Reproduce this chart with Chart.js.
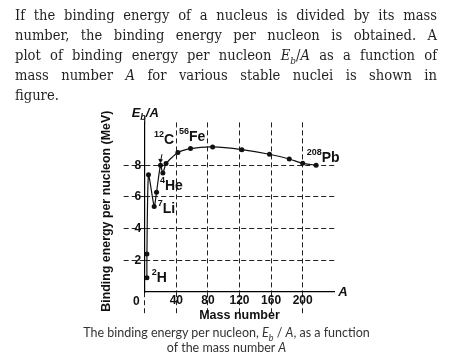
<!DOCTYPE html>
<html><head><meta charset="utf-8">
<script src="https://cdn.jsdelivr.net/npm/chart.js@4"></script>
<style>
html,body{margin:0;padding:0;background:#fff;width:453px;height:362px;overflow:hidden;}
#wrap{position:relative;width:453px;height:362px;}
canvas{position:absolute;left:0;top:0;}
.hl{position:absolute;left:15px;width:422px;font-family:"DejaVu Serif Condensed","DejaVu Serif",serif;font-stretch:semi-condensed;font-size:14.6px;color:#231f20;text-align:justify;text-align-last:justify;line-height:20px;}
.cap{position:absolute;left:0;width:453px;text-align:center;font-family:Lato,sans-serif;font-size:12.5px;color:#333;line-height:15px;}
</style></head>
<body><div id="wrap">
<canvas id="c" width="453" height="362"></canvas>
<div class="hl" style="top:5px">If the binding energy of a nucleus is divided by its mass</div>
<div class="hl" style="top:25px">number, the binding energy per nucleon is obtained. A</div>
<div class="hl" style="top:45px">plot of binding energy per nucleon <i>E</i><sub style="font-size:10px;line-height:0"><i>b</i></sub>/<i>A</i> as a function of</div>
<div class="hl" style="top:65px">mass number <i>A</i> for various stable nuclei is shown in</div>
<div class="hl" style="top:84.5px;text-align-last:left">figure.</div>
<div class="cap" style="top:325px">The binding energy per nucleon, <i>E</i><sub style="font-size:9px;line-height:0"><i>b</i></sub> / <i>A</i>, as a function</div>
<div class="cap" style="top:340px">of the mass number <i>A</i></div>
</div>
<script>
const massNumbers = [2.8, 2.8, 4.8, 12, 15, 20, 23, 27, 42, 58, 86, 123, 158, 183, 200, 217];
const bindingPerNucleon = [0.9, 2.4, 7.4, 5.4, 6.3, 8.0, 7.5, 8.1, 8.8, 9.05, 9.15, 8.98, 8.69, 8.39, 8.12, 8.0];
const xTickValues = [0, 40, 80, 120, 160, 200];
const yTickValues = [2, 4, 6, 8];
const labelSup = ['12', '56', '4', '7', '208', '2'];
const labelSym = ['C', 'Fe', 'He', 'Li', 'Pb', 'H'];
const labelAt = [5, 9, 6, 3, 14, 0];
const yTitle = 'Binding energy per nucleon (MeV)';
const xTitle = 'Mass number';

const points = massNumbers.map((a, i) => ({x: a, y: bindingPerNucleon[i]}));
const FONT = '"Liberation Sans", Arial, sans-serif';
const labelOffsets = [[-6.5, -25], [-11.5, -11.6], [-2.9, 13.2], [3.5, 2.3], [4, -5], [4.8, 0.6]];

const overlay = {
  id: 'overlay',
  afterDraw(chart) {
    const {ctx, chartArea, scales: {x, y}} = chart;
    ctx.save();
    ctx.fillStyle = '#111';
    ctx.strokeStyle = '#111';
    // y axis slightly beyond the plot top
    ctx.lineWidth = 1.2;
    ctx.beginPath();
    ctx.moveTo(x.getPixelForValue(0), chartArea.top);
    ctx.lineTo(x.getPixelForValue(0), chartArea.top - 5);
    ctx.stroke();
    // y title
    ctx.save();
    ctx.translate(chartArea.left - 37.7, (chartArea.top + chartArea.bottom) / 2 + 4);
    ctx.rotate(-Math.PI / 2);
    ctx.font = 'bold 12.4px ' + FONT;
    ctx.textAlign = 'center';
    ctx.textBaseline = 'middle';
    ctx.fillText(yTitle, 0, 0);
    ctx.restore();
    ctx.textBaseline = 'middle';
    // origin label
    ctx.textAlign = 'center';
    ctx.font = 'bold 12px ' + FONT;
    ctx.fillText('0', x.getPixelForValue(0) - 8.3, y.getPixelForValue(0) + 9.5);
    // Eb/A label
    ctx.textAlign = 'left';
    let lx = x.getPixelForValue(0) - 13, ly = chartArea.top - 9;
    ctx.font = 'italic bold 13px ' + FONT;
    ctx.fillText('E', lx, ly);
    lx += ctx.measureText('E').width;
    ctx.font = 'italic bold 9px ' + FONT;
    ctx.fillText('b', lx, ly + 4);
    lx += ctx.measureText('b').width;
    ctx.font = 'italic bold 13px ' + FONT;
    ctx.fillText('/A', lx, ly);
    // A at the end of x axis
    ctx.fillText('A', chartArea.right + 4, y.getPixelForValue(0));
    // nuclide labels
    labelSym.forEach((sym, k) => {
      const i = labelAt[k];
      const px = x.getPixelForValue(massNumbers[i]) + labelOffsets[k][0];
      const py = y.getPixelForValue(bindingPerNucleon[i]) + labelOffsets[k][1];
      ctx.font = 'bold 9px ' + FONT;
      ctx.fillText(labelSup[k], px, py - 5.5);
      const w = ctx.measureText(labelSup[k]).width;
      ctx.font = 'bold 14px ' + FONT;
      ctx.fillText(sym, px + w, py);
    });
    // arrow to 12C
    const ax = x.getPixelForValue(massNumbers[5]);
    const ay = y.getPixelForValue(bindingPerNucleon[5]);
    ctx.lineWidth = 1;
    ctx.beginPath();
    ctx.moveTo(ax + 1.5, ay - 11);
    ctx.lineTo(ax + 0.3, ay - 5);
    ctx.stroke();
    ctx.beginPath();
    ctx.moveTo(ax - 2.3, ay - 6.5);
    ctx.lineTo(ax + 2.5, ay - 5.7);
    ctx.lineTo(ax - 0.2, ay - 2);
    ctx.closePath();
    ctx.fill();
    ctx.restore();
  }
};

new Chart(document.getElementById('c'), {
  type: 'line',
  data: {
    datasets: [{
      data: points,
      borderColor: '#111',
      borderWidth: 1.2,
      tension: 0.2,
      pointRadius: 2.5,
      pointBackgroundColor: '#111',
      pointBorderColor: '#111',
      pointBorderWidth: 0
    }]
  },
  options: {
    responsive: false,
    animation: false,
    events: [],
    layout: {padding: {left: 80, right: 118.7, top: 122.4, bottom: 38.8}},
    plugins: {legend: {display: false}, tooltip: {enabled: false}},
    scales: {
      x: {
        type: 'linear', min: 0, max: 240,
        afterBuildTicks: s => { s.ticks = xTickValues.map(v => ({value: v})); },
        afterFit: s => { s.height = 31.2; },
        grid: {
          color: c => (c.tick && c.tick.value === 0) ? 'rgba(0,0,0,0)' : '#222',
          tickColor: '#222',
          lineWidth: 1,
          tickBorderDash: [5, 3],
          tickLength: 22
        },
        border: {display: true, color: '#000', width: 1.2, dash: [5, 3]},
        ticks: {
          padding: -20.2,
          maxRotation: 0,
          autoSkip: false,
          color: '#111',
          callback: v => (v === 0 ? '' : String(v)),
          font: {family: FONT, size: 12, weight: 'bold'}
        },
        title: {display: true, text: xTitle, color: '#111', padding: 0,
          font: {family: FONT, size: 12.5, weight: 'bold'}}
      },
      y: {
        type: 'linear', min: 0, max: 10.7,
        afterBuildTicks: s => { s.ticks = yTickValues.map(v => ({value: v})); },
        afterFit: s => { s.width = 64.7; },
        grid: {
          color: '#222',
          tickColor: '#222',
          lineWidth: 1,
          tickBorderDash: [5, 3],
          tickLength: 21
        },
        border: {display: true, color: '#000', width: 1.2, dash: [5, 3]},
        ticks: {
          padding: -17.5,
          color: '#111',
          font: {family: FONT, size: 12, weight: 'bold'}
        }
      }
    }
  },
  plugins: [overlay]
});
</script>
</body></html>
